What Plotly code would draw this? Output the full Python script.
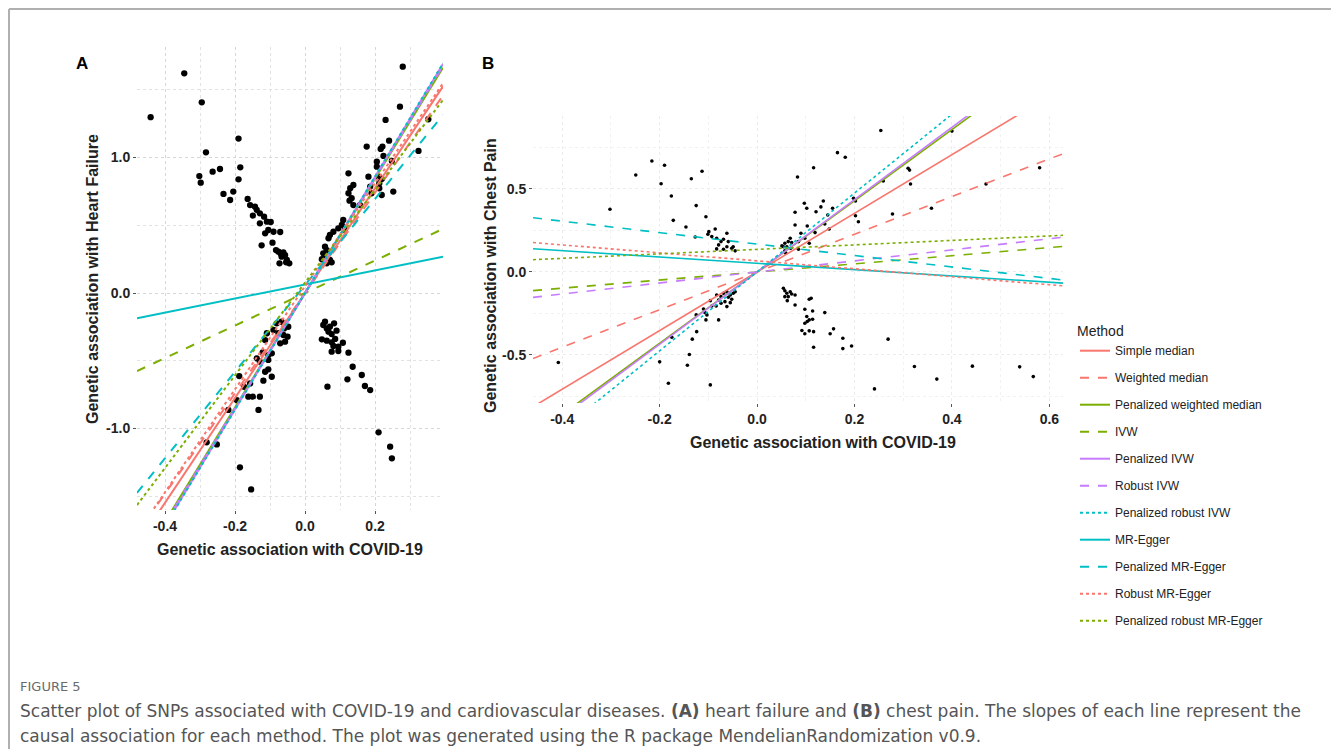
import plotly.graph_objects as go

W, H = 1331, 749

# ---------------- data ----------------
methods = ["Simple median", "Weighted median", "Penalized weighted median", "IVW",
           "Penalized IVW", "Robust IVW", "Penalized robust IVW", "MR-Egger",
           "Penalized MR-Egger", "Robust MR-Egger", "Penalized robust MR-Egger"]
method_colors = ["#F8766D", "#F8766D", "#7CAE00", "#7CAE00", "#C77CFF", "#C77CFF",
                 "#00BFC4", "#00BFC4", "#00BFC4", "#F8766D", "#7CAE00"]
method_dash = ["solid", "dash", "solid", "dash", "solid", "dash", "dot",
               "solid", "dash", "dot", "dot"]

# Panel A: heart failure
slopes_A = [3.87, 3.70, 4.22, 1.20, 4.29, 4.25, 4.30, 0.52, 3.19, 3.80, 3.42]
intercepts_A = [0.0, 0.0, 0.0, 0.0, 0.0, 0.0, 0.0, 0.063, 0.057, 0.05, 0.077]

# Panel B: chest pain
slopes_B = [1.767, 1.135, 2.146, 0.245, 2.18, 0.333, 2.377, -0.19, -0.345, -0.24, 0.135]
intercepts_B = [0.0, 0.0, 0.0, 0.0, 0.0, 0.0, 0.0, 0.052, 0.168, 0.067, 0.136]

snp_x_A = [-0.441, -0.345, -0.295, -0.283, -0.302, -0.298, -0.264, -0.243, -0.233, -0.214,
           -0.205, -0.190, -0.185, -0.190, -0.164, -0.157, -0.143, -0.138, -0.149, -0.129,
           -0.117, -0.129, -0.109, -0.098, -0.105, -0.114, -0.090, -0.071, -0.093, -0.124,
           -0.083, -0.076, -0.069, -0.062, -0.057, -0.067, -0.052, -0.045, -0.073, -0.054,
           0.279, 0.271, 0.230, 0.352, 0.324, 0.240, 0.176, 0.216, 0.221, 0.205,
           0.248, 0.224, 0.205, 0.181, 0.210, 0.219, 0.212, 0.186, 0.190, 0.219,
           0.252, 0.212, 0.124, 0.138, 0.129, 0.124, 0.133, 0.127, 0.138, 0.157,
           0.109, 0.105, 0.095, 0.114, 0.081, 0.071, 0.067, 0.057, 0.062, 0.052,
           0.067, 0.057, 0.071, 0.062, 0.076, 0.048,
           -0.081, -0.067, -0.090, -0.060, -0.048, -0.076, -0.062, -0.050, -0.057, -0.071,
           -0.109, -0.114, -0.121, -0.105, -0.095, -0.138, -0.129, -0.105, -0.105, -0.114,
           -0.095, -0.119, -0.157, -0.174, -0.188, -0.162, -0.149, -0.195, -0.219, -0.129,
           -0.133, -0.281, -0.252, -0.186, -0.154,
           0.057, 0.052, 0.062, 0.071, 0.083, 0.067, 0.076, 0.090, 0.048, 0.062,
           0.076, 0.086, 0.081, 0.095, 0.076, 0.108, 0.095, 0.124, 0.136, 0.121,
           0.162, 0.171, 0.186, 0.064, 0.210, 0.243, 0.248]
snp_y_A = [1.297, 1.621, 1.407, 1.038, 0.863, 0.814, 0.895, 0.915, 0.731, 0.686,
           0.748, 1.139, 0.927, 0.839, 0.694, 0.649, 0.637, 0.613, 0.571, 0.588,
           0.563, 0.514, 0.526, 0.524, 0.465, 0.440, 0.452, 0.450, 0.371, 0.352,
           0.317, 0.305, 0.288, 0.300, 0.280, 0.268, 0.244, 0.219, 0.219, 0.226,
           1.670, 1.375, 1.277, 1.282, 1.048, 1.124, 1.080, 1.063, 1.080, 0.969,
           0.974, 1.011, 0.932, 0.858, 0.858, 0.841, 0.810, 0.785, 0.736, 0.723,
           0.748, 0.773, 0.883, 0.797, 0.773, 0.736, 0.699, 0.681, 0.649, 0.649,
           0.539, 0.502, 0.477, 0.465, 0.452, 0.428, 0.404, 0.342, 0.317, 0.293,
           0.293, 0.256, 0.244, 0.219, 0.226, 0.249,
           -0.224, -0.212, -0.273, -0.261, -0.249, -0.297, -0.310, -0.322, -0.359, -0.371,
           -0.297, -0.347, -0.438, -0.458, -0.445, -0.482, -0.507, -0.494, -0.563, -0.581,
           -0.618, -0.647, -0.667, -0.692, -0.613, -0.765, -0.765, -0.790, -0.863, -0.765,
           -0.863, -1.102, -1.117, -1.286, -1.449,
           -0.212, -0.236, -0.261, -0.249, -0.224, -0.285, -0.303, -0.278, -0.342, -0.352,
           -0.364, -0.339, -0.391, -0.396, -0.433, -0.367, -0.428, -0.440, -0.544, -0.637,
           -0.605, -0.686, -0.716, -0.691, -1.028, -1.134, -1.220]

snp_x_B = [-0.302, -0.249, -0.216, -0.190, -0.197, -0.176, -0.172, -0.146, -0.135, -0.113,
           -0.125, -0.105, -0.127, -0.099, -0.086, -0.101, -0.093, -0.083, -0.074, -0.062,
           -0.069, -0.079, -0.059, -0.062, -0.052, -0.045, -0.049, -0.083, -0.069,
           0.254, 0.165, 0.181, 0.116, 0.083, 0.097, 0.102, 0.136, 0.121, 0.131,
           0.145, 0.155, 0.198, 0.202, 0.202, 0.208, 0.259, 0.078, 0.078, 0.103,
           0.119, 0.139, 0.148, 0.090, 0.098, 0.085, 0.107, 0.085, 0.068, 0.064,
           0.071, 0.057, 0.061, 0.054, 0.051, 0.069, 0.057, 0.059,
           0.400, 0.310, 0.313, 0.315, 0.580, 0.470, 0.358, 0.278,
           -0.408, -0.200, -0.182, -0.175, -0.139, -0.143, -0.133, -0.124, -0.125, -0.110,
           -0.103, -0.105, -0.107, -0.096, -0.079, -0.084, -0.074, -0.079, -0.083, -0.069,
           -0.062, -0.055, -0.045, -0.052, -0.066, -0.062, -0.055, -0.059, -0.074, -0.049,
           -0.096, -0.093,
           0.054, 0.057, 0.061, 0.064, 0.071, 0.068, 0.057, 0.062, 0.078, 0.078,
           0.098, 0.107, 0.111, 0.114, 0.098, 0.107, 0.114, 0.103, 0.102, 0.116,
           0.107, 0.092, 0.098, 0.116, 0.139, 0.150, 0.157, 0.176, 0.176, 0.194,
           0.241, 0.269, 0.323, 0.369, 0.442, 0.539, 0.567]
snp_y_B = [0.378, 0.584, 0.669, 0.643, 0.532, 0.458, 0.311, 0.271, 0.562, 0.607,
           0.400, 0.333, 0.211, 0.243, 0.259, 0.227, 0.213, 0.203, 0.183, 0.233,
           0.197, 0.163, 0.183, 0.152, 0.143, 0.127, 0.152, 0.139, 0.137,
           0.853, 0.719, 0.691, 0.628, 0.572, 0.414, 0.384, 0.428, 0.363, 0.392,
           0.343, 0.384, 0.444, 0.428, 0.339, 0.303, 0.548, 0.360, 0.283, 0.277,
           0.237, 0.289, 0.259, 0.233, 0.203, 0.183, 0.173, 0.137, 0.203, 0.183,
           0.177, 0.173, 0.152, 0.152, 0.157, 0.143, 0.127, 0.113,
           0.849, 0.625, 0.614, 0.530, 0.628, 0.530, 0.384, 0.349,
           -0.546, -0.542, -0.671, -0.394, -0.498, -0.562, -0.405, -0.360, -0.259, -0.223,
           -0.259, -0.289, -0.245, -0.681, -0.289, -0.205, -0.189, -0.169, -0.139, -0.128,
           -0.119, -0.139, -0.119, -0.165, -0.179, -0.209, -0.185, -0.153, -0.149, -0.128,
           -0.173, -0.205,
           -0.098, -0.113, -0.128, -0.149, -0.133, -0.119, -0.149, -0.173, -0.139, -0.199,
           -0.225, -0.165, -0.159, -0.235, -0.309, -0.289, -0.285, -0.299, -0.269, -0.360,
           -0.355, -0.353, -0.373, -0.454, -0.245, -0.373, -0.343, -0.400, -0.462, -0.446,
           -0.705, -0.405, -0.570, -0.646, -0.568, -0.572, -0.631]

xtick_A = [-0.4, -0.2, 0.0, 0.2]
ytick_A = [-1.0, 0.0, 1.0]
xtick_B = [-0.4, -0.2, 0.0, 0.2, 0.4, 0.6]
ytick_B = [-0.5, 0.0, 0.5]

xrange_A = [-0.48, 0.394]
yrange_A = [-1.601, 1.815]
xrange_B = [-0.46, 0.628]
yrange_B = [-0.79, 0.94]

# ---------------- layout geometry (pixels) ----------------
def px(x):
    return x / W

def py(y):
    return 1 - y / H

A_left, A_right, A_top, A_bot = 137, 443, 47, 510
B_left, B_right, B_top, B_bot = 533, 1063, 116, 403

fig = go.Figure()

# points
fig.add_trace(go.Scatter(x=snp_x_A, y=snp_y_A, mode="markers", xaxis="x", yaxis="y",
                         marker=dict(color="black", size=6.3), showlegend=False, hoverinfo="x+y"))
fig.add_trace(go.Scatter(x=snp_x_B, y=snp_y_B, mode="markers", xaxis="x2", yaxis="y2",
                         marker=dict(color="black", size=3.6), showlegend=False, hoverinfo="x+y"))

# method lines
for i, m in enumerate(methods):
    xa = xrange_A
    ya = [intercepts_A[i] + slopes_A[i] * v for v in xa]
    fig.add_trace(go.Scatter(x=xa, y=ya, mode="lines", xaxis="x", yaxis="y", name=m,
                             legendgroup=m, showlegend=True,
                             line=dict(color=method_colors[i], dash=method_dash[i], width=2)))
for i, m in enumerate(methods):
    xb = xrange_B
    yb = [intercepts_B[i] + slopes_B[i] * v for v in xb]
    fig.add_trace(go.Scatter(x=xb, y=yb, mode="lines", xaxis="x2", yaxis="y2", name=m,
                             legendgroup=m, showlegend=False,
                             line=dict(color=method_colors[i], dash=method_dash[i], width=1.6)))

tickfont = dict(family="Liberation Sans", size=14, color="#222222", weight="bold")

def fmt(v):
    return f"{v:.1f}"

axis_common = dict(showline=False, zeroline=False, ticks="outside", ticklen=3,
                   tickcolor="#555555", tickwidth=1, tickfont=tickfont)

fig.update_layout(
    width=W, height=H,
    margin=dict(l=0, r=0, t=0, b=0),
    paper_bgcolor="white", plot_bgcolor="white",
    font=dict(family="Liberation Sans", color="#222222"),
    xaxis=dict(domain=[px(A_left), px(A_right)], range=xrange_A, anchor="y",
               tickvals=xtick_A, ticktext=[fmt(v) for v in xtick_A],
               showgrid=True, gridcolor="#d6d6d6", griddash="dot", gridwidth=1,
               minor=dict(dtick=0.1, showgrid=True, gridcolor="#e2e2e2", griddash="dot", ticklen=0),
               **axis_common),
    yaxis=dict(domain=[py(A_bot), py(A_top)], range=yrange_A, anchor="x",
               tickvals=ytick_A, ticktext=[fmt(v) for v in ytick_A],
               showgrid=True, gridcolor="#d6d6d6", griddash="dot", gridwidth=1,
               minor=dict(dtick=0.5, showgrid=True, gridcolor="#e2e2e2", griddash="dot", ticklen=0),
               **axis_common),
    xaxis2=dict(domain=[px(B_left), px(B_right)], range=xrange_B, anchor="y2",
                tickvals=xtick_B, ticktext=[fmt(v) for v in xtick_B],
                showgrid=True, gridcolor="#ececec", griddash="dot", gridwidth=1,
                minor=dict(dtick=0.1, showgrid=True, gridcolor="#f2f2f2", griddash="dot", ticklen=0),
                **axis_common),
    yaxis2=dict(domain=[py(B_bot), py(B_top)], range=yrange_B, anchor="x2",
                tickvals=ytick_B, ticktext=[fmt(v) for v in ytick_B],
                showgrid=True, gridcolor="#ececec", griddash="dot", gridwidth=1,
                minor=dict(dtick=0.25, showgrid=True, gridcolor="#f2f2f2", griddash="dot", ticklen=0),
                **axis_common),
    legend=dict(x=px(1075), y=py(318), xanchor="left", yanchor="top",
                title=dict(text="Method", font=dict(size=14, color="#222222")),
                font=dict(size=12, color="#222222"), traceorder="grouped",
                tracegroupgap=8, bgcolor="rgba(0,0,0,0)", itemwidth=30),
    showlegend=True,
)

ann = []
# panel labels
ann.append(dict(text="<b>A</b>", x=px(82), y=py(63), xref="paper", yref="paper",
                showarrow=False, font=dict(size=17, color="black"), xanchor="center", yanchor="middle"))
ann.append(dict(text="<b>B</b>", x=px(488), y=py(63), xref="paper", yref="paper",
                showarrow=False, font=dict(size=17, color="black"), xanchor="center", yanchor="middle"))
# axis titles
ann.append(dict(text="<b>Genetic association with COVID-19</b>", x=px(290), y=py(549),
                xref="paper", yref="paper", showarrow=False,
                font=dict(size=16, color="#222222"), xanchor="center", yanchor="middle"))
ann.append(dict(text="<b>Genetic association with Heart Failure</b>", x=px(92), y=py(279),
                xref="paper", yref="paper", showarrow=False, textangle=-90,
                font=dict(size=16, color="#222222"), xanchor="center", yanchor="middle"))
ann.append(dict(text="<b>Genetic association with COVID-19</b>", x=px(823), y=py(442),
                xref="paper", yref="paper", showarrow=False,
                font=dict(size=16, color="#222222"), xanchor="center", yanchor="middle"))
ann.append(dict(text="<b>Genetic association with Chest Pain</b>", x=px(490), y=py(276),
                xref="paper", yref="paper", showarrow=False, textangle=-90,
                font=dict(size=16, color="#222222"), xanchor="center", yanchor="middle"))
# caption
cap_font = dict(family="DejaVu Sans", size=17, color="#555555")
ann.append(dict(text="FIGURE 5", x=px(18), y=py(686), xref="paper", yref="paper",
                showarrow=False, xanchor="left", yanchor="middle",
                font=dict(family="DejaVu Sans", size=13, color="#6a6a6a")))
ann.append(dict(text="Scatter plot of SNPs associated with COVID-19 and cardiovascular diseases. <b>(A)</b> heart failure and <b>(B)</b> chest pain. The slopes of each line represent the",
                x=px(18), y=py(711), xref="paper", yref="paper", showarrow=False,
                xanchor="left", yanchor="middle", font=cap_font))
ann.append(dict(text="causal association for each method. The plot was generated using the R package MendelianRandomization v0.9.",
                x=px(18), y=py(736), xref="paper", yref="paper", showarrow=False,
                xanchor="left", yanchor="middle", font=cap_font))
fig.update_layout(annotations=ann)

# figure frame (top and left edges)
fig.add_shape(type="line", xref="paper", yref="paper", x0=px(9), x1=1.0, y0=py(9), y1=py(9),
              line=dict(color="#b0b0b0", width=2))
fig.add_shape(type="line", xref="paper", yref="paper", x0=px(9), x1=px(9), y0=0, y1=py(9),
              line=dict(color="#b0b0b0", width=2))

fig.write_html("out.html", config={"displayModeBar": False},
               post_script="document.body.style.margin='0';document.body.style.overflow='hidden';")
